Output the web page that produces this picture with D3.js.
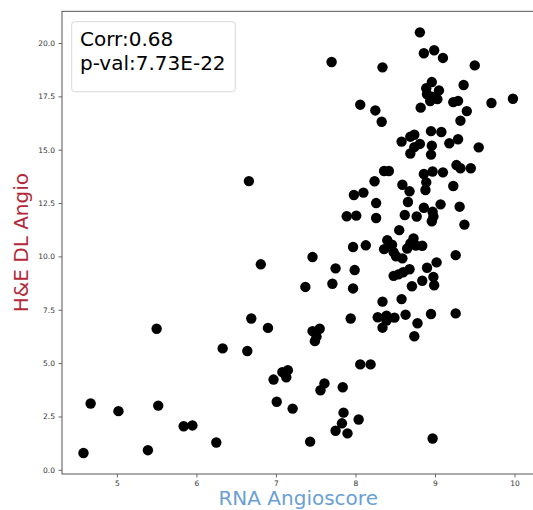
<!DOCTYPE html>
<html>
<head>
<meta charset="utf-8">
<script src="https://cdn.jsdelivr.net/npm/d3@7/dist/d3.min.js"></script>
<style>
  body { margin: 0; background: #fff; }
  svg { display: block; font-family: "DejaVu Sans", sans-serif; }
</style>
</head>
<body>
<div id="chart"></div>
<script>
// RNA Angioscore (x) vs H&E DL Angio (y)
var rnaScore = [
  8.81, 8.86, 8.99, 9.10, 7.70, 8.34, 9.50, 8.96, 9.36, 8.89,
  9.05, 8.90, 8.96, 9.03, 8.94, 9.23, 9.29, 9.71, 9.98, 8.06,
  8.25, 8.33, 8.82, 9.40, 9.32, 8.95, 9.08, 8.58, 8.69, 8.74,
  8.74, 8.81, 8.96, 9.18, 9.29, 9.55, 8.69, 8.95, 9.27, 9.32,
  9.45, 8.36, 8.42, 8.86, 8.97, 9.10, 8.24, 8.59, 8.89, 8.68,
  8.88, 9.23, 7.98, 8.10, 8.26, 8.66, 8.86, 8.97, 9.07, 9.31,
  7.89, 8.01, 8.26, 8.62, 8.77, 8.98, 8.96, 9.37, 8.55, 7.97,
  8.13, 8.40, 8.46, 8.36, 8.48, 8.51, 8.59, 8.73, 8.69, 8.65,
  8.76, 8.84, 9.26, 7.46, 6.81, 7.75, 7.99, 9.02, 8.90, 8.68,
  8.60, 8.54, 8.48, 8.98, 8.99, 8.84, 8.71, 7.37, 7.71, 7.97,
  6.66, 8.58, 8.34, 6.90, 7.46, 7.55, 7.51, 7.49, 7.94, 8.28,
  8.39, 8.39, 8.49, 8.34, 8.63, 8.95, 9.26, 8.78, 8.74, 8.06,
  8.19, 7.15, 7.08, 7.13, 6.97, 7.61, 7.56, 7.84, 7.01, 7.21,
  7.85, 7.83, 8.04, 7.75, 7.90, 7.43, 8.97, 5.50, 6.69, 6.33,
  6.64, 4.67, 5.02, 5.52, 5.84, 5.95, 4.58, 5.39, 6.25
];
var dlAngio = [
  20.50, 19.52, 19.66, 19.30, 19.11, 18.86, 18.95, 18.17, 18.03, 17.88,
  17.78, 17.60, 17.48, 17.37, 17.28, 17.23, 17.29, 17.19, 17.39, 17.11,
  16.84, 16.31, 16.97, 16.81, 16.36, 15.87, 15.83, 15.38, 15.61, 15.70,
  15.12, 15.27, 15.19, 15.30, 15.49, 15.11, 14.82, 14.77, 14.28, 14.13,
  14.13, 14.00, 14.00, 13.86, 13.98, 13.94, 13.52, 13.36, 13.47, 13.05,
  13.11, 13.30, 12.88, 12.99, 12.50, 12.55, 12.28, 12.09, 12.44, 12.33,
  11.88, 11.91, 11.80, 11.94, 11.87, 11.87, 11.65, 11.49, 11.23, 10.44,
  10.52, 10.76, 10.55, 10.34, 10.20, 10.01, 9.91, 10.84, 10.61, 10.37,
  10.51, 10.50, 10.06, 9.97, 9.63, 9.44, 9.36, 9.72, 9.47, 9.40,
  9.26, 9.16, 9.09, 9.04, 8.65, 8.86, 8.60, 8.57, 8.72, 8.50,
  13.53, 8.00, 7.88, 6.65, 6.50, 6.61, 6.24, 6.03, 7.09, 7.15,
  7.22, 6.99, 7.13, 6.66, 7.27, 7.30, 7.33, 6.87, 6.26, 4.94,
  4.94, 4.67, 4.58, 4.34, 4.23, 4.05, 3.73, 3.87, 3.19, 2.87,
  2.68, 2.18, 2.36, 1.83, 1.71, 1.32, 1.47, 6.61, 7.09, 5.69,
  5.57, 3.11, 2.75, 3.01, 2.04, 2.08, 0.79, 0.92, 1.28
];
var xTicks = [5, 6, 7, 8, 9, 10];
var yTicks = [0, 2.5, 5, 7.5, 10, 12.5, 15, 17.5, 20];
var statLines = ["Corr:0.68", "p-val:7.73E-22"];

var W = 533, H = 510;
var margin = {top: 11.3, right: -1.4, bottom: 36, left: 62};
var width = W - margin.left - margin.right;
var height = H - margin.top - margin.bottom;

var points = rnaScore.map(function(d, i) { return {x: d, y: dlAngio[i]}; });

// matplotlib style 5% padding around the data
function padded(ext) {
  var pad = (ext[1] - ext[0]) * 0.05;
  return [ext[0] - pad, ext[1] + pad];
}

var x = d3.scaleLinear()
  .domain(padded(d3.extent(rnaScore)))
  .range([0, width]);
var y = d3.scaleLinear()
  .domain(padded(d3.extent(dlAngio)))
  .range([height, 0]);

var svg = d3.select("#chart").append("svg")
    .attr("width", W)
    .attr("height", H)
  .append("g")
    .attr("transform", "translate(" + margin.left + "," + margin.top + ")");

var xAxis = svg.append("g")
  .attr("transform", "translate(0," + height + ")")
  .call(d3.axisBottom(x).tickValues(xTicks).tickFormat(d3.format("d"))
    .tickSize(3.5).tickPadding(3.5).tickSizeOuter(0));

var yAxis = svg.append("g")
  .call(d3.axisLeft(y).tickValues(yTicks).tickFormat(d3.format(".1f"))
    .tickSize(3.5).tickPadding(3.5).tickSizeOuter(0));

[xAxis, yAxis].forEach(function(a) {
  a.select(".domain").remove();
  a.selectAll("line").attr("stroke", "#444").attr("stroke-width", 0.8);
  a.selectAll("text").attr("fill", "#333").style("font-size", "7.5px")
    .style("font-family", "DejaVu Sans");
});

// frame
svg.append("rect")
  .attr("width", width)
  .attr("height", height)
  .attr("fill", "none")
  .attr("stroke", "#444")
  .attr("stroke-width", 0.9);

svg.selectAll("circle")
  .data(points)
  .enter()
  .append("circle")
  .attr("cx", function(d) { return x(d.x); })
  .attr("cy", function(d) { return y(d.y); })
  .attr("r", 5.2)
  .attr("fill", "#000");

// stats box
var box = svg.append("g").attr("transform", "translate(9.7,10.4)");
box.append("rect")
  .attr("width", 163.6)
  .attr("height", 70)
  .attr("rx", 3)
  .attr("fill", "#fff")
  .attr("fill-opacity", 0.8)
  .attr("stroke", "#d8d8d8");
box.selectAll("text.stat")
  .data(statLines)
  .enter()
  .append("text")
  .attr("class", "stat")
  .attr("x", 8.3)
  .attr("y", function(d, i) { return 24 + i * 24.6; })
  .attr("fill", "#000")
  .style("font-size", "20px")
  .text(function(d) { return d; });

// axis titles
svg.append("text")
  .attr("x", width / 2)
  .attr("y", height + 31)
  .attr("text-anchor", "middle")
  .attr("fill", "#6a9fd4")
  .style("font-size", "20px")
  .text("RNA Angioscore");

svg.append("text")
  .attr("transform", "translate(" + (28 - margin.left) + "," + (height / 2) + ") rotate(-90)")
  .attr("text-anchor", "middle")
  .attr("fill", "#b22a3a")
  .style("font-size", "20px")
  .text("H&E DL Angio");
</script>
</body>
</html>
